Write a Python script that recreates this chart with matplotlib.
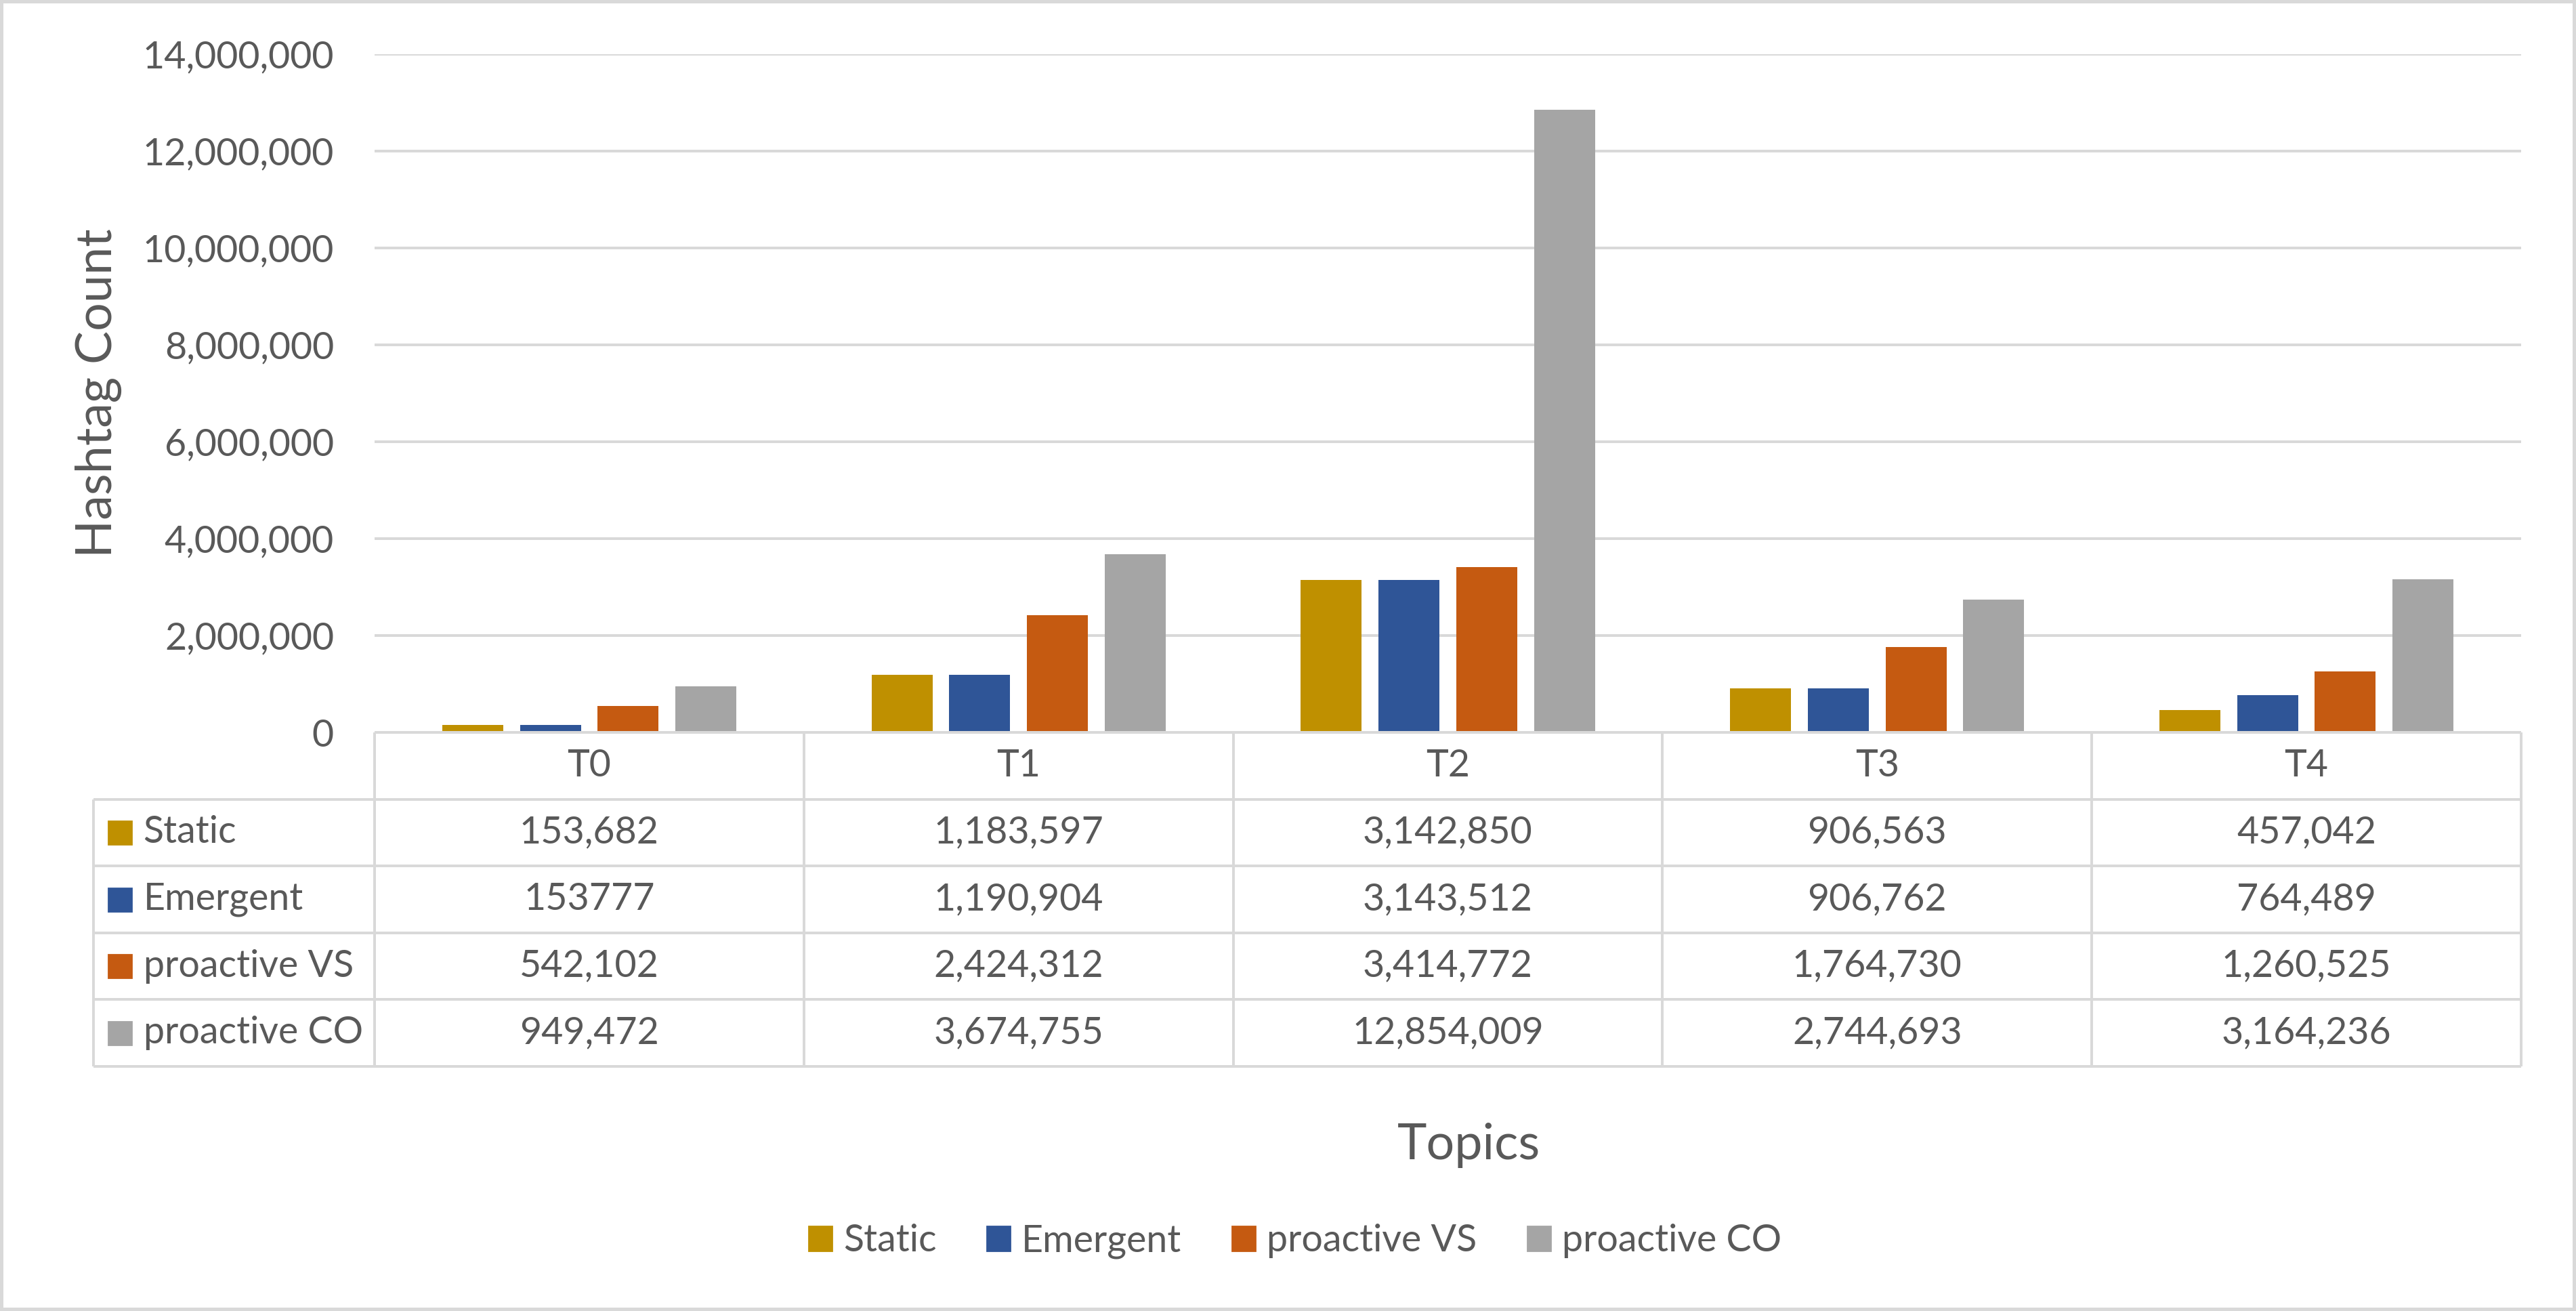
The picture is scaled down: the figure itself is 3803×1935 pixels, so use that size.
import matplotlib
matplotlib.use("Agg")
import matplotlib.pyplot as plt
from matplotlib.patches import Patch, Rectangle
from matplotlib.ticker import FuncFormatter

topics = ["T0", "T1", "T2", "T3", "T4"]
series_names = ["Static", "Emergent", "proactive VS", "proactive CO"]
static = [153682, 1183597, 3142850, 906563, 457042]
emergent = [153777, 1190904, 3143512, 906762, 764489]
proactive_vs = [542102, 2424312, 3414772, 1764730, 1260525]
proactive_co = [949472, 3674755, 12854009, 2744693, 3164236]
# the source table prints this one cell without a thousands separator
plain_cells = [("Emergent", 0)]

colors = ["#BF9000", "#2F5597", "#C55A11", "#A5A5A5"]
grid_color = "#D9D9D9"
text_color = "#595959"

plt.rcParams["font.family"] = ["Lato", "DejaVu Sans"]

W, H, DPI = 3803, 1935, 200
fig = plt.figure(figsize=(W / DPI, H / DPI), dpi=DPI)
px = 72 / DPI  # points per pixel


def fx(x):
    return x / W


def fy(y):
    return 1 - y / H


# main bar axes
ax = fig.add_axes([fx(553), fy(1081), fx(3722 - 553), (1081 - 80) / H])
all_series = [static, emergent, proactive_vs, proactive_co]
step = 0.181
width = 0.142
for i, (name, vals) in enumerate(zip(series_names, all_series)):
    xs = [k + (i - 1.5) * step for k in range(len(topics))]
    ax.bar(xs, vals, width=width, color=colors[i], label=name, zorder=3)

ax.set_xlim(-0.5, 4.5)
ax.set_ylim(0, 14e6)
ax.set_yticks(range(0, 14000001, 2000000))
ax.yaxis.set_major_formatter(FuncFormatter(lambda v, p: f"{int(v):,}"))
ax.set_xticks([])
ax.tick_params(axis="y", length=0, pad=60 * px, labelsize=20, labelcolor=text_color)
ax.grid(axis="y", color=grid_color, linewidth=4 * px, zorder=0)
for s in ax.spines.values():
    s.set_visible(False)

# data table under the plot
label_w = (553 - 137.6) / 634.0
tax = fig.add_axes([fx(137.6), fy(1574), fx(3722 - 137.6), (1574 - 1081) / H])
tax.set_xlim(-0.5 - label_w, 4.5)
tax.set_ylim(5, 0)
tax.axis("off")
lw = 4 * px
left = -0.5 - label_w
tax.hlines(0, -0.5, 4.5, color=grid_color, linewidth=lw, clip_on=False)
tax.hlines(range(1, 6), left, 4.5, color=grid_color, linewidth=lw, clip_on=False)
tax.vlines(left, 1, 5, color=grid_color, linewidth=lw, clip_on=False)
tax.vlines([k - 0.5 for k in range(6)], 0, 5, color=grid_color, linewidth=lw, clip_on=False)

for k, t in enumerate(topics):
    tax.text(k, 0.5, t, ha="center", va="center", fontsize=20, color=text_color)

sq_w = 34 / 634.0
sq_h = 34 / 98.6
for i, (name, vals) in enumerate(zip(series_names, all_series)):
    row = i + 1.5
    tax.add_patch(Rectangle((left + 22 / 634.0, row - sq_h / 2), sq_w, sq_h,
                            color=colors[i], clip_on=False))
    tax.text(left + 74 / 634.0, row, name, ha="left", va="center",
             fontsize=20, color=text_color)
    for k, v in enumerate(vals):
        label = str(v) if (name, k) in plain_cells else f"{v:,}"
        tax.text(k, row, label, ha="center", va="center", fontsize=20, color=text_color)

# axis titles
fig.text(fx(145), fy(580), "Hashtag Count", rotation=90, ha="center", va="center",
         fontsize=26.5, color=text_color)
fig.text(fx(2169), fy(1690), "Topics", ha="center", va="center",
         fontsize=26.5, color=text_color)

# legend
handles = [Patch(color=c, label=n) for c, n in zip(colors, series_names)]
leg = fig.legend(handles=handles, loc="center", bbox_to_anchor=(fx(1912), fy(1832)),
                 ncol=4, frameon=False, fontsize=20, handlelength=0.61,
                 handleheight=0.61, handletextpad=0.3, columnspacing=1.35)
for t in leg.get_texts():
    t.set_color(text_color)

# outer chart border
fig.add_artist(Rectangle((0, 0), 1, 1, transform=fig.transFigure, fill=False,
                         edgecolor=grid_color, linewidth=10 * px))

fig.savefig("out.png", dpi=DPI, facecolor="white")
